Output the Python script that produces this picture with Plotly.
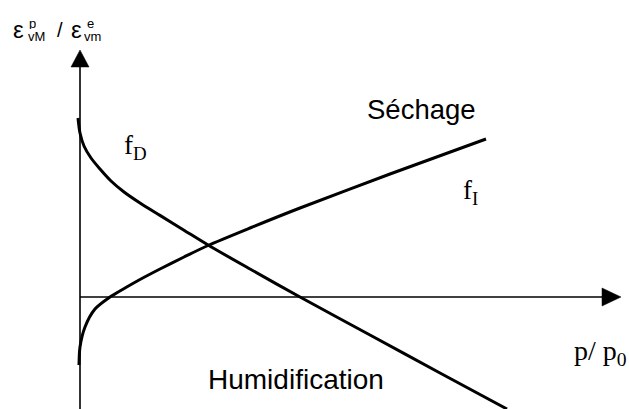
import plotly.graph_objects as go

# Schematic: coupling functions f_D (drying) and f_I (wetting) versus p/p0
p_fd = [-0.02, 0.0, 0.04, 0.11, 0.20, 0.31, 0.44, 0.60, 0.80, 1.04, 1.28, 1.70, 2.20, 2.90, 3.60, 4.27]
f_d = [1.79, 1.64, 1.51, 1.39, 1.28, 1.16, 1.05, 0.94, 0.816, 0.668, 0.52, 0.28, 0.00, -0.38, -0.76, -1.12]

p_fi = [-0.01, 0.0, 0.05, 0.15, 0.30, 0.45, 0.60, 0.80, 1.04, 1.28, 1.70, 2.20, 3.10, 4.06]
f_i = [-0.68, -0.50, -0.30, -0.12, 0.0, 0.09, 0.175, 0.28, 0.40, 0.515, 0.69, 0.89, 1.23, 1.58]

# axis extents (data units)
X_RANGE = [-0.80, 5.49]
Y_RANGE = [-1.12, 2.97]
X_AXIS_END, X_TIP = 5.22, 5.41
Y_AXIS_END, Y_TIP = 2.30, 2.47
HEAD_HALF_X, HEAD_HALF_Y = 0.09, 0.09

ARIAL = "Arial, Liberation Sans, sans-serif"
TIMES = "Times New Roman, Liberation Serif, serif"

fig = go.Figure()

for xs, ys in ((p_fd, f_d), (p_fi, f_i)):
    fig.add_trace(go.Scatter(
        x=xs, y=ys, mode="lines",
        line=dict(color="black", width=3, shape="spline", smoothing=0.8),
        hoverinfo="skip", showlegend=False,
    ))

shapes = [
    # vertical axis
    dict(type="line", x0=0, y0=Y_RANGE[0] - 0.1, x1=0, y1=Y_AXIS_END,
         line=dict(color="black", width=1.6)),
    dict(type="path",
         path=f"M {-HEAD_HALF_X} {Y_AXIS_END} L {HEAD_HALF_X} {Y_AXIS_END} L 0 {Y_TIP} Z",
         fillcolor="black", line=dict(color="black", width=0.5)),
    # horizontal axis
    dict(type="line", x0=0, y0=0, x1=X_AXIS_END, y1=0,
         line=dict(color="black", width=1.6)),
    dict(type="path",
         path=f"M {X_AXIS_END} {-HEAD_HALF_Y} L {X_AXIS_END} {HEAD_HALF_Y} L {X_TIP} 0 Z",
         fillcolor="black", line=dict(color="black", width=0.5)),
]

def label(text, x, y, size, family, xanchor="left", yanchor="middle", height=None):
    a = dict(text=text, x=x, y=y, xref="x", yref="y", showarrow=False,
             xanchor=xanchor, yanchor=yanchor,
             font=dict(size=size, family=family, color="black"))
    if height:
        a["height"] = height
    return a

annotations = [
    label("Séchage", 3.41, 1.88, 27.5, ARIAL, xanchor="center"),
    label("Humidification", 2.16, -0.82, 28, ARIAL, xanchor="center"),
    label("f<sub>D</sub>", 0.42, 1.50, 27, TIMES),
    label("f<sub>I</sub>", 3.81, 1.05, 27, TIMES),
    label("p/ p<sub>0</sub>", 5.49, -0.55, 28, TIMES, xanchor="right"),
    # vertical axis title: ε^p_vM / ε^e_vm
    label("ε", -0.69, 2.68, 24, ARIAL),
    label("p", -0.53, 2.735, 13, ARIAL, height=11),
    label("vM", -0.54, 2.61, 13, ARIAL, height=11),
    label("/", -0.25, 2.67, 20, ARIAL),
    label("ε", -0.11, 2.68, 24, ARIAL),
    label("e", 0.05, 2.735, 13, ARIAL, height=11),
    label("vm", 0.02, 2.61, 13, ARIAL, height=11),
]

fig.update_layout(
    width=629, height=409, autosize=False,
    margin=dict(l=0, r=0, t=0, b=0),
    paper_bgcolor="white", plot_bgcolor="white",
    xaxis=dict(range=X_RANGE, visible=False, fixedrange=True),
    yaxis=dict(range=Y_RANGE, visible=False, fixedrange=True),
    shapes=shapes, annotations=annotations,
)

fig.write_html("out.html")
